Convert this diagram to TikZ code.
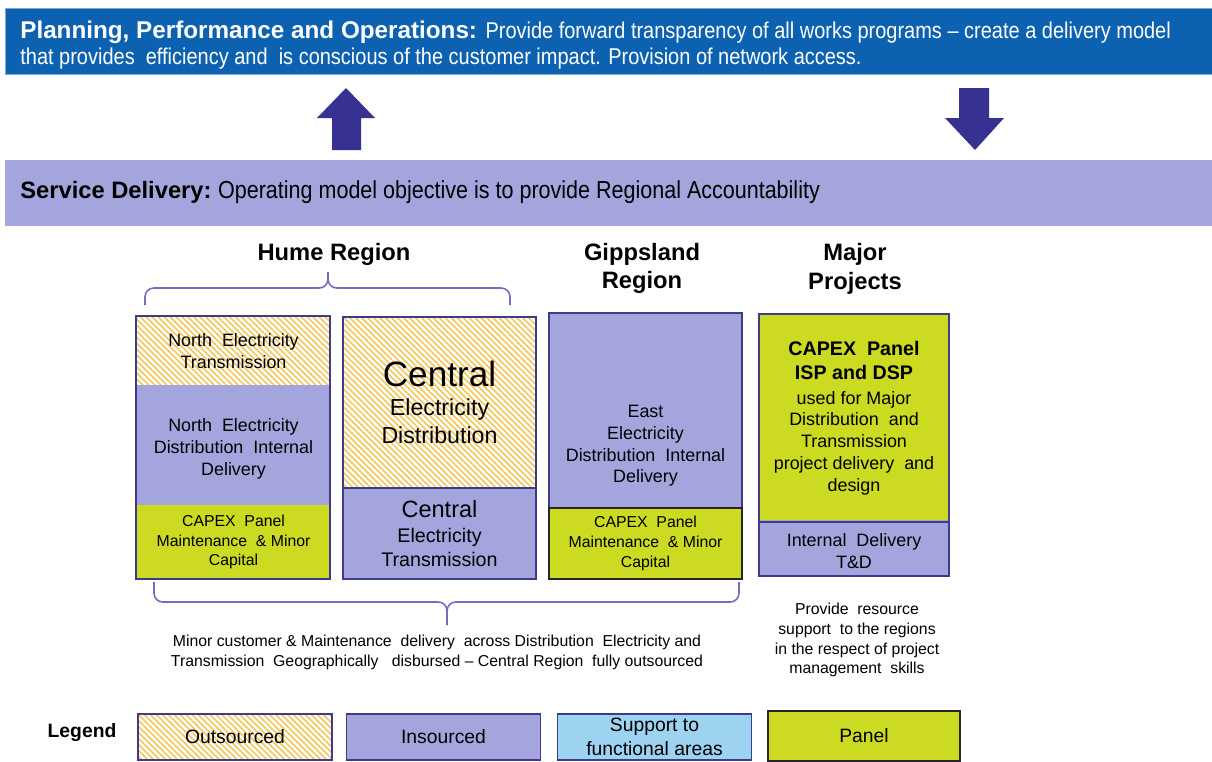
\documentclass[tikz,border=0pt]{standalone}
\usepackage{fontspec}
\setmainfont{Liberation Sans}
\newfontfamily\narrowfont{Liberation Sans}[FakeStretch=0.875]
\usetikzlibrary{positioning, patterns.meta}
\definecolor{pporblue}{RGB}{12,98,176}
\definecolor{insourced}{RGB}{165,165,222}
\definecolor{panelgreen}{RGB}{204,218,34}
\definecolor{supportblue}{RGB}{157,210,240}
\definecolor{hatchgold}{RGB}{246,198,86}
\definecolor{framenavy}{RGB}{62,58,140}
\definecolor{arrowpurple}{RGB}{55,50,145}
\definecolor{bracepurple}{RGB}{118,108,190}

\tikzset{
  sz/.style 2 args={minimum width=#1*0.02cm, minimum height=#2*0.02cm},
  section/.style={inner sep=0pt, align=center, text=black},
  outsrc/.style={section, pattern={Lines[angle=-45,distance=2.4pt,line width=0.9pt]}, pattern color=hatchgold},
  insrc/.style={section, fill=insourced},
  panel/.style={section, fill=panelgreen},
  frame/.style={draw=framenavy, line width=1.1pt},
  darkframe/.style={draw=black!85, line width=1.1pt},
  brace/.style={draw=bracepurple, line width=0.9pt, rounded corners=5pt},
  banner/.style={sz={1207}{66}, inner sep=0pt},
  bannertext/.style={anchor=west, inner sep=0pt, align=left},
  heading/.style={font=\fontsize{13.5}{16.4}\selectfont\bfseries, align=center},
  boxtext/.style={font=\fontsize{10.2}{12.4}\selectfont},
  smalltext/.style={font=\fontsize{9}{11.3}\selectfont},
  legbox/.style={section, sz={194}{46}, draw=framenavy, line width=0.8pt, font=\fontsize{11}{13.6}\selectfont}
}

\begin{document}
\begin{tikzpicture}[x=0.02cm, y=-0.02cm]
    % page
    \fill[white] (0,0) rectangle (1212,761);
    \useasboundingbox (0,0) rectangle (1212,761);

    % Banners
    \node[banner, fill=pporblue, draw=pporblue!55!white] (ppo) at (608.5,41) {};
    \node[bannertext, text=white, font=\fontsize{13}{14.7}\selectfont] (ppotext) at (20,45)
        {{\fontsize{13.8}{14.7}\selectfont\bfseries Planning, Performance and Operations:} {\narrowfont Provide forward transparency of all works programs – create a delivery model}\\{\narrowfont that provides\ \ efficiency and\ \ is conscious of the customer impact. Provision of network access.}};
    \node[banner, fill=insourced] (sd) at (608.5,193) {};
    \node[bannertext, font=\fontsize{13.5}{15}\selectfont] (sdtext) at (20,192)
        {{\bfseries Service Delivery:}\ {\fontsize{14}{15}\narrowfont Operating model objective is to provide Regional Accountability}};

    % Up / down arrows
    \fill[arrowpurple] (332,150) -- (332,118) -- (317,118) -- (346,88) -- (375,118) -- (361,118) -- (361,150) -- cycle;
    \fill[arrowpurple] (959,88) -- (989,88) -- (989,118) -- (1004,118) -- (975,150) -- (945,118) -- (959,118) -- cycle;

    % Headings
    \node[heading] (hume) at (334,254) {Hume Region};
    \node[heading] (gipps) at (642,268.5) {Gippsland\\Region};
    \node[heading] (major) at (855,268.5) {Major\\Projects};
    \draw[brace] (145,305) |- (328,288) -- (328,272);
    \draw[brace] (510,305) |- (328,288) -- (328,272);

    % North column
    \node[outsrc, sz={193}{68}, boxtext] (nt) at (233.5,351) {North\ \ Electricity\\Transmission};
    \node[insrc, sz={193}{120}, boxtext] (nd) at (233.5,445) {};
    \node[boxtext, align=center] (ndtext) at (233.5,449) {North\ \ Electricity\\Distribution\ \ Internal\\Delivery};
    \node[panel, sz={193}{74}, smalltext] (nc) at (233.5,542) {CAPEX\ \ Panel\\Maintenance\ \ \& Minor\\Capital};
    \draw[frame] (nt.north west) rectangle (nc.south east);

    % Central column
    \node[outsrc, sz={193}{171}, font=\fontsize{13.2}{16.4}\selectfont] (cd) at (439.5,402.5)
        {{\fontsize{20}{24}\selectfont Central}\\Electricity\\Distribution};
    \node[insrc, sz={193}{91}, font=\fontsize{11.2}{13.5}\selectfont] (ct) at (439.5,533.5)
        {{\fontsize{13.4}{15}\selectfont Central}\\[1pt]Electricity\\Transmission};
    \draw[frame] (cd.north west) rectangle (ct.south east);
    \draw[frame] (cd.south west) -- (cd.south east);

    % East column
    \node[insrc, sz={193}{195}] (ed) at (645.5,410.5) {};
    \node[boxtext, align=center] (edtext) at (645.5,446) {East\\Electricity\\Distribution\ \ Internal\\Delivery};
    \node[panel, sz={193}{71}, smalltext] (ec) at (645.5,543.5) {CAPEX\ \ Panel\\Maintenance\ \ \& Minor\\Capital};
    \draw[frame] (ed.north west) rectangle (ec.south east);
    \draw[darkframe] (ec.north west) rectangle (ec.south east);

    % Major projects column
    \node[panel, sz={190}{207}, boxtext] (mp) at (854,418)
        {{\fontsize{11.2}{14}\selectfont\bfseries CAPEX\ \ Panel}\\[1.5pt]{\fontsize{11.2}{14}\selectfont\bfseries ISP and DSP}\\[1.5pt]used for Major\\Distribution\ \ and\\Transmission\\project delivery\ \ and\\design};
    \node[insrc, sz={190}{56}, boxtext] (mi) at (854,548) {};
    \node[boxtext, align=center] (mitext) at (854,551) {Internal\ \ Delivery\\T\&D};
    \draw[frame] (mp.north west) rectangle (mi.south east);
    \draw[frame] (mp.south west) -- (mp.south east);

    % Notes
    \draw[brace] (154,582) |- (447,602) -- (447,625);
    \draw[brace] (739,582) |- (447,602) -- (447,625);
    \node[smalltext, align=center] (note) at (437,652)
        {Minor customer \& Maintenance\ \ delivery\ \ across Distribution\ \ Electricity and\\Transmission\ \ Geographically\ \ \ disbursed – Central Region\ \ fully outsourced};
    \node[smalltext, align=center] (support) at (857,640)
        {Provide\ \ resource\\support\ \ to the regions\\in the respect of project\\management\ \ skills};

    % Legend
    \node[font=\fontsize{11}{13.6}\selectfont\bfseries] (legend) at (82,733) {Legend};
    \node[legbox, outsrc] (lo) at (235,737) {Outsourced};
    \node[legbox, insrc] (li) at (443.5,737) {Insourced};
    \node[legbox, fill=supportblue] (ls) at (654.5,737) {Support to\\functional areas};
    \node[legbox, panel, sz={192}{50}, draw=black!85] (lp) at (864,736) {Panel};
\end{tikzpicture}
\end{document}
